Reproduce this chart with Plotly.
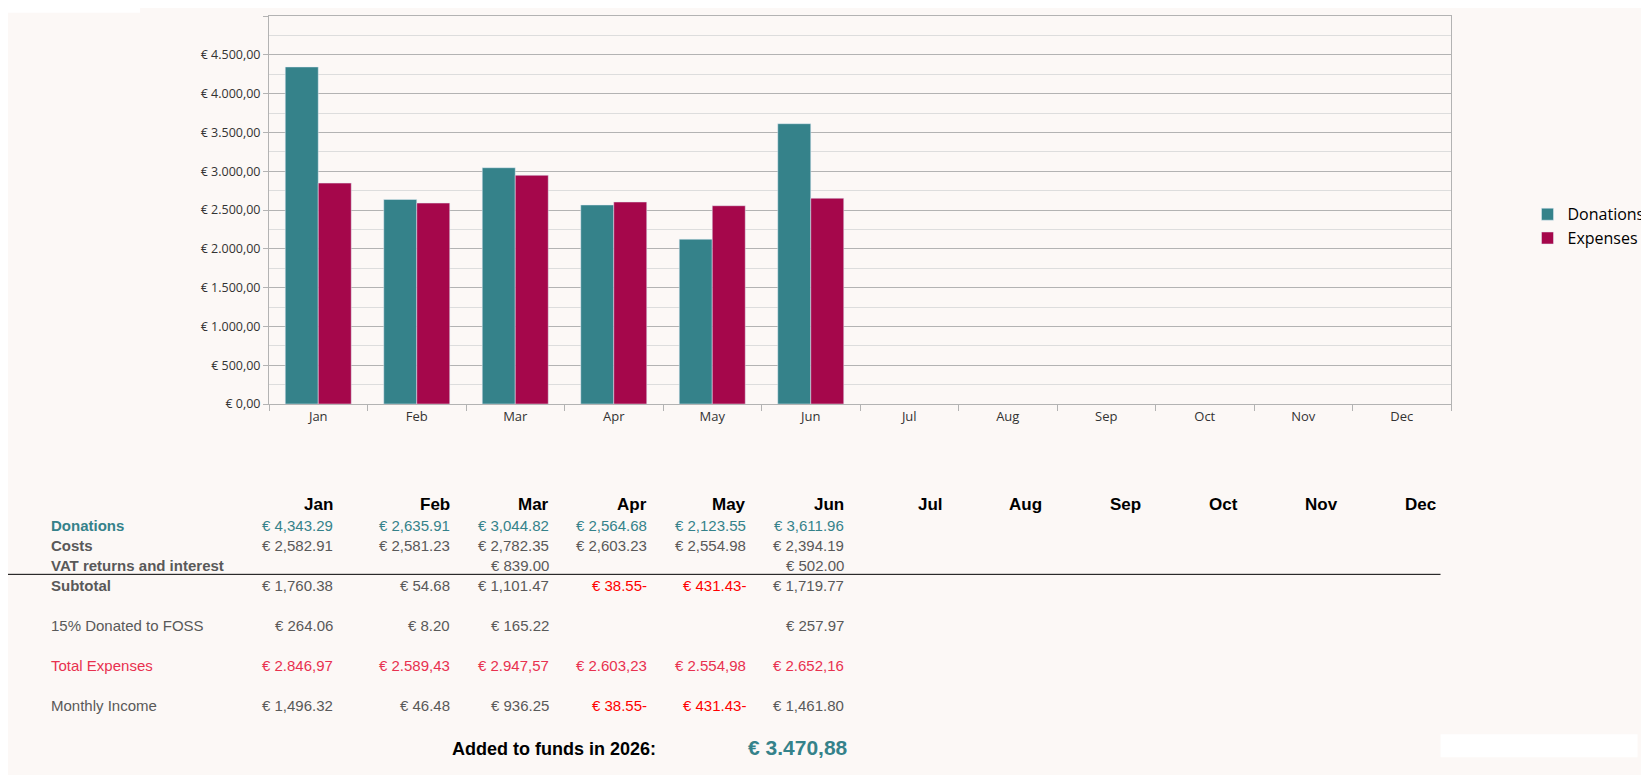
import plotly.graph_objects as go

months = ["Jan", "Feb", "Mar", "Apr", "May", "Jun", "Jul", "Aug", "Sep", "Oct", "Nov", "Dec"]
donations = [4343.29, 2635.91, 3044.82, 2564.68, 2123.55, 3611.96]
expenses = [2846.97, 2589.43, 2947.57, 2603.23, 2554.98, 2652.16]
y_ticks = [0, 500, 1000, 1500, 2000, 2500, 3000, 3500, 4000, 4500, 5000]
y_tick_text = ["€ 0,00", "€ 500,00", "€ 1.000,00", "€ 1.500,00", "€ 2.000,00", "€ 2.500,00",
               "€ 3.000,00", "€ 3.500,00", "€ 4.000,00", "€ 4.500,00", "€ 5.000,00"]

costs = ["€ 2,582.91", "€ 2,581.23", "€ 2,782.35", "€ 2,603.23", "€ 2,554.98", "€ 2,394.19"]
vat = ["", "", "€ 839.00", "", "", "€ 502.00"]
subtotal = ["€ 1,760.38", "€ 54.68", "€ 1,101.47", "€ 38.55-", "€ 431.43-", "€ 1,719.77"]
foss = ["€ 264.06", "€ 8.20", "€ 165.22", "", "", "€ 257.97"]
total_exp = ["€ 2.846,97", "€ 2.589,43", "€ 2.947,57", "€ 2.603,23", "€ 2.554,98", "€ 2.652,16"]
monthly = ["€ 1,496.32", "€ 46.48", "€ 936.25", "€ 38.55-", "€ 431.43-", "€ 1,461.80"]
added_funds = "€ 3.470,88"

TEAL = "#35828a"
WINE = "#a5074b"
GRAY = "#595959"
RED = "#ff0000"
BG = "#fcf8f6"

# reference positions were measured on a scaled view; convert to figure pixels
S = 0.951
def fx(d):
    return d / S - 8

W, H = 1649, 775
L, R, T, B = fx(256), fx(1384), fx(15), fx(384)

def px(x):
    return (fx(x) - L) / (R - L)

def py(y):
    return (B - fx(y)) / (B - T)

fig = go.Figure()
fig.add_trace(go.Bar(x=months[:6], y=donations, name="Donations", marker_color=TEAL))
fig.add_trace(go.Bar(x=months[:6], y=expenses, name="Expenses", marker_color=WINE))

fig.update_xaxes(categoryorder="array", categoryarray=months, range=[-0.5, 11.5],
                 tickson="boundaries", ticks="outside", ticklen=6, tickcolor="#b3b3b3",
                 showline=True, linecolor="#b3b3b3", showgrid=False, mirror=True,
                 tickfont=dict(family="Open Sans", size=13, color="#333"))
fig.update_yaxes(range=[0, 5000], tickvals=y_ticks, ticktext=y_tick_text,
                 showline=True, linecolor="#b3b3b3", ticks="outside", ticklen=5,
                 tickcolor="#b3b3b3", gridcolor="#b3b3b3", gridwidth=1,
                 minor=dict(dtick=250, showgrid=True, gridcolor="#dddddd"),
                 tickfont=dict(family="Open Sans", size=12.5, color="#333"), zeroline=False,
                 mirror=True)

ann = []
def text(x, y, s, color=GRAY, bold=False, size=15, anchor="right"):
    ann.append(dict(x=px(x), y=py(y), xref="paper", yref="paper", text=f"<b>{s}</b>" if bold else s,
                    showarrow=False, xanchor=anchor, yanchor="middle",
                    font=dict(family="Liberation Sans", size=size, color=color)))

col_right = [319, 431, 525, 619, 713, 807, 901, 996, 1090, 1183, 1278, 1372]
for m, cx in zip(months, col_right):
    text(cx, 480, m, color="#000", bold=True, size=17)

text(46, 500, "Donations", TEAL, True, anchor="left")
text(46, 519, "Costs", GRAY, True, anchor="left")
text(46, 538, "VAT returns and interest", GRAY, True, anchor="left")
text(46, 557, "Subtotal", GRAY, True, anchor="left")
text(46, 595, "15% Donated to FOSS", GRAY, anchor="left")
text(46, 633, "Total Expenses", "#e8314f", anchor="left")
text(46, 671, "Monthly Income", GRAY, anchor="left")

for i in range(6):
    cx = col_right[i]
    text(cx, 500, f"€ {donations[i]:,.2f}", TEAL)
    text(cx, 519, costs[i])
    if vat[i]:
        text(cx, 538, vat[i])
    text(cx, 557, subtotal[i], RED if subtotal[i].endswith("-") else GRAY)
    if foss[i]:
        text(cx, 595, foss[i])
    text(cx, 633, total_exp[i], "#e8314f")
    text(cx, 671, monthly[i], RED if monthly[i].endswith("-") else GRAY)

text(627, 712, "Added to funds in 2026:", "#000", True, size=18)
text(810, 711, added_funds, TEAL, True, size=21)

fig.update_layout(
    width=W, height=H, autosize=False,
    margin=dict(l=L, r=W - R, t=T, b=H - B),
    paper_bgcolor=BG, plot_bgcolor=BG,
    barmode="group", bargap=0.33, bargroupgap=0,
    legend=dict(x=px(1457), y=py(215), xanchor="left", yanchor="middle",
                font=dict(family="Open Sans", size=16, color="#000"), itemwidth=30,
                tracegroupgap=0, bgcolor="rgba(0,0,0,0)"),
    annotations=ann,
    shapes=[
        dict(type="line", xref="paper", yref="paper", x0=px(0), x1=px(1374), y0=py(546), y1=py(546),
             line=dict(color="#000", width=1)),
        dict(type="rect", xref="paper", yref="paper", x0=px(0), x1=px(133), y0=py(0), y1=py(12),
             fillcolor="white", line_width=0),
        dict(type="rect", xref="paper", yref="paper", x0=px(1374), x1=px(1562), y0=py(698), y1=py(720),
             fillcolor="white", line_width=0),
    ],
)

fig.write_html("out.html")
